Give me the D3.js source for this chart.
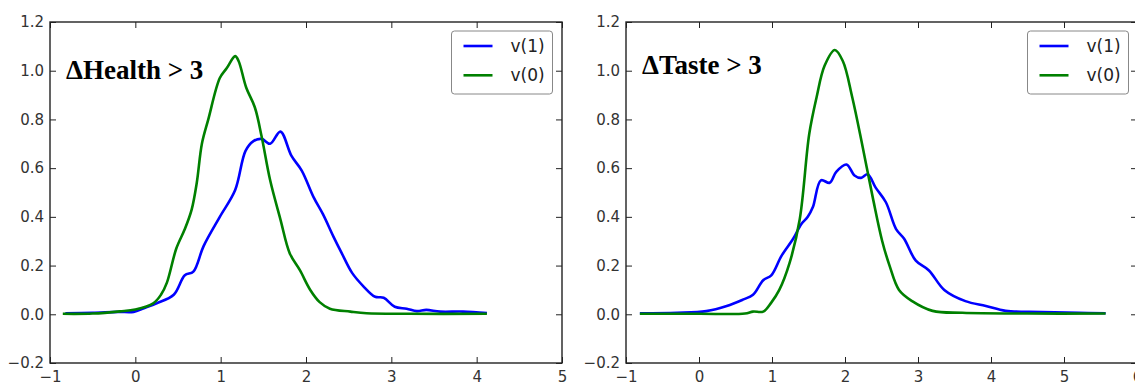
<!DOCTYPE html>
<html>
<head>
<meta charset="utf-8">
<script src="https://cdn.jsdelivr.net/npm/d3@7"></script>
<style>
  body { margin: 0; background: #fff; }
  svg { display: block; }
</style>
</head>
<body>
<svg width="1135" height="385"></svg>
<script>
// density curves, [x, density]
var healthV1 = [[-0.82,0.004],[-0.5,0.006],[-0.2,0.01],[-0.02,0.01],[0.1,0.025],[0.25,0.045],[0.45,0.08],
  [0.58,0.16],[0.68,0.175],[0.8,0.28],[0.99,0.40],[1.17,0.51],[1.29,0.67],[1.38,0.71],[1.48,0.72],
  [1.58,0.70],[1.70,0.75],[1.83,0.65],[1.95,0.59],[2.09,0.48],[2.20,0.41],[2.32,0.32],[2.42,0.25],
  [2.54,0.17],[2.67,0.116],[2.81,0.072],[2.91,0.068],[3.04,0.031],[3.18,0.023],[3.30,0.013],
  [3.41,0.018],[3.57,0.011],[3.84,0.011],[4.12,0.005]];
var healthV0 = [[-0.85,0.002],[-0.5,0.003],[-0.18,0.012],[0.0,0.02],[0.21,0.045],[0.3,0.08],[0.37,0.13],
  [0.48,0.27],[0.58,0.35],[0.66,0.43],[0.72,0.54],[0.78,0.70],[0.855,0.80],[0.99,0.97],[1.07,1.01],
  [1.17,1.06],[1.21,1.04],[1.30,0.93],[1.40,0.85],[1.48,0.73],[1.58,0.55],[1.70,0.39],[1.81,0.25],
  [1.93,0.18],[2.05,0.10],[2.16,0.05],[2.28,0.023],[2.52,0.011],[2.71,0.004],[3.2,0.002],[4.12,0.002]];
var tasteV1 = [[-0.81,0.004],[-0.3,0.006],[0.1,0.013],[0.38,0.034],[0.6,0.06],[0.74,0.08],[0.88,0.14],
  [0.99,0.16],[1.13,0.24],[1.29,0.31],[1.40,0.37],[1.49,0.40],[1.56,0.44],[1.67,0.55],[1.79,0.54],
  [1.88,0.585],[2.02,0.615],[2.13,0.57],[2.22,0.56],[2.31,0.575],[2.42,0.52],[2.56,0.46],[2.70,0.35],
  [2.81,0.31],[2.97,0.22],[3.15,0.18],[3.36,0.10],[3.65,0.054],[3.93,0.034],[4.20,0.014],[4.52,0.01],
  [5.20,0.006],[5.57,0.004]];
var tasteV0 = [[-0.81,0.002],[0.0,0.002],[0.63,0.003],[0.74,0.011],[0.88,0.011],[0.99,0.048],[1.10,0.10],
  [1.24,0.21],[1.38,0.39],[1.51,0.74],[1.61,0.89],[1.72,1.02],[1.86,1.085],[1.97,1.04],[2.10,0.89],
  [2.24,0.69],[2.38,0.48],[2.51,0.30],[2.61,0.20],[2.74,0.10],[2.92,0.054],[3.20,0.014],[3.61,0.006],
  [4.5,0.003],[5.57,0.003]];

var seriesNames = ["v(1)", "v(0)"];
var seriesColors = ["#0000ff", "#008000"];
var yTicks = [-0.2, 0.0, 0.2, 0.4, 0.6, 0.8, 1.0, 1.2];
var healthXTicks = [-1, 0, 1, 2, 3, 4, 5];
var tasteXTicks = [-1, 0, 1, 2, 3, 4, 5, 6];

var svg = d3.select("svg");

function panel(opt) {
  var x = d3.scaleLinear().domain(d3.extent(opt.xTicks)).range([opt.left, opt.right]);
  var y = d3.scaleLinear().domain([-0.2, 1.2]).range([363, 22]);
  var g = svg.append("g");

  var line = d3.line()
      .x(d => x(d[0]))
      .y(d => y(d[1]))
      .curve(d3.curveCatmullRom.alpha(0.5));

  opt.series.forEach((s, i) => {
    g.append("path")
        .datum(s)
        .attr("fill", "none")
        .attr("stroke", seriesColors[i])
        .attr("stroke-width", 2.6)
        .attr("stroke-linejoin", "round")
        .attr("d", line);
  });

  function style(a) {
    a.select(".domain").remove();
    a.selectAll(".tick line").attr("stroke", "#222").attr("stroke-width", 1);
    a.selectAll("text").attr("font-family", "DejaVu Sans, sans-serif").attr("font-size", 15).attr("fill", "#333");
  }

  g.append("g").attr("transform", "translate(0,363)")
      .call(d3.axisBottom(x).tickValues(opt.xTicks).tickFormat(d3.format("d")).tickSizeInner(-6).tickSizeOuter(0).tickPadding(8))
      .call(style);
  g.append("g").attr("transform", "translate(0,22)")
      .call(d3.axisTop(x).tickValues(opt.xTicks).tickFormat("").tickSizeInner(-6).tickSizeOuter(0))
      .call(style);
  g.append("g").attr("transform", "translate(" + opt.left + ",0)")
      .call(d3.axisLeft(y).tickValues(yTicks).tickFormat(d3.format(".1f")).tickSizeInner(-6).tickSizeOuter(0).tickPadding(6))
      .call(style);
  g.append("g").attr("transform", "translate(" + opt.right + ",0)")
      .call(d3.axisRight(y).tickValues(yTicks).tickFormat("").tickSizeInner(-6).tickSizeOuter(0))
      .call(style);

  g.append("rect")
      .attr("x", opt.left).attr("y", 22)
      .attr("width", opt.right - opt.left).attr("height", 341)
      .attr("fill", "none").attr("stroke", "#222").attr("stroke-width", 1.4);

  g.append("text")
      .attr("x", opt.titleX).attr("y", opt.titleY)
      .attr("font-family", "Liberation Serif, Times New Roman, serif")
      .attr("font-weight", "bold")
      .attr("font-size", 27)
      .attr("fill", "#000")
      .text(opt.title);

  var lg = g.append("g").attr("transform", "translate(" + opt.legendX + ",31)");
  lg.append("rect")
      .attr("width", 101).attr("height", 63).attr("rx", 3)
      .attr("fill", "#fff").attr("stroke", "#888").attr("stroke-width", 1);
  seriesNames.forEach((n, i) => {
    var yy = 15 + i * 29.3;
    lg.append("line")
        .attr("x1", 12).attr("x2", 41).attr("y1", yy).attr("y2", yy)
        .attr("stroke", seriesColors[i]).attr("stroke-width", 2.6);
    lg.append("text")
        .attr("x", 59).attr("y", yy).attr("dy", "0.35em")
        .attr("font-family", "DejaVu Sans, sans-serif").attr("font-size", 17).attr("fill", "#222")
        .text(n);
  });
}

panel({left: 50, right: 562, xTicks: healthXTicks, series: [healthV1, healthV0],
  title: "ΔHealth > 3", titleX: 66, titleY: 79, legendX: 451.5});
panel({left: 626, right: 1137, xTicks: tasteXTicks, series: [tasteV1, tasteV0],
  title: "ΔTaste > 3", titleX: 642, titleY: 74, legendX: 1027.5});
</script>
</body>
</html>
